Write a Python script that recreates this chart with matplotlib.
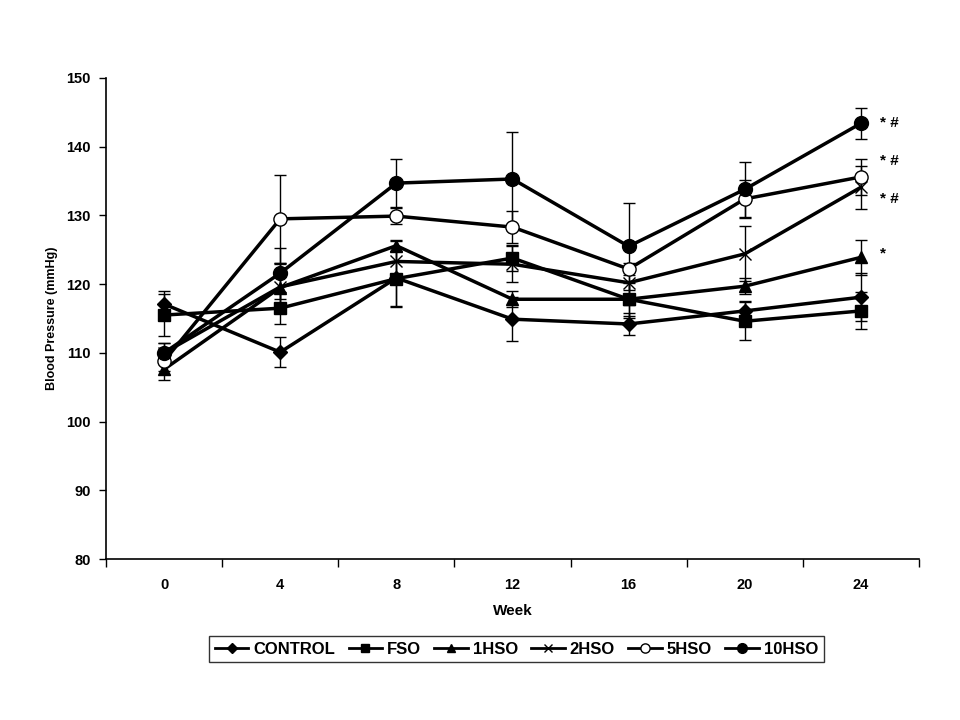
import matplotlib
matplotlib.use("Agg")
import matplotlib.pyplot as plt
from matplotlib.lines import Line2D

weeks = ["0", "4", "8", "12", "16", "20", "24"]

control = [117.1, 110.1, 120.9, 114.9, 114.2, 116.1, 118.1]
control_err = [1.9, 2.2, 4.3, 3.2, 1.6, 1.5, 3.5]
fso = [115.5, 116.5, 120.8, 123.8, 117.8, 114.6, 116.1]
fso_err = [3.0, 2.3, 4.0, 1.9, 2.7, 2.8, 2.7]
hso1 = [107.6, 119.5, 125.6, 117.8, 117.8, 119.7, 123.9]
hso1_err = [1.6, 3.5, 0.8, 1.2, 2.4, 1.2, 2.5]
hso2 = [110.0, 119.6, 123.3, 122.9, 120.2, 124.4, 134.1]
hso2_err = [1.5, 3.5, 3.0, 2.6, 2.5, 4.0, 3.1]
hso5 = [108.8, 129.5, 129.9, 128.3, 122.2, 132.4, 135.6]
hso5_err = [1.5, 6.4, 1.2, 2.3, 0.9, 2.8, 2.6]
hso10 = [110.0, 121.6, 134.7, 135.3, 125.5, 133.8, 143.4]
hso10_err = [1.5, 3.7, 3.5, 6.8, 6.3, 4.0, 2.3]

series = [
    ("CONTROL", control, control_err, dict(marker="D", ms=7, mfc="black")),
    ("FSO", fso, fso_err, dict(marker="s", ms=9, mfc="black")),
    ("1HSO", hso1, hso1_err, dict(marker="^", ms=9, mfc="black")),
    ("2HSO", hso2, hso2_err, dict(marker="x", ms=9, mew=1.0)),
    ("5HSO", hso5, hso5_err, dict(marker="o", ms=9.5, mfc="white", mew=1.0)),
    ("10HSO", hso10, hso10_err, dict(marker="o", ms=10, mfc="black")),
]

annotations = [("* #", hso10[-1]), ("* #", 137.9), ("* #", 132.4), ("*", 124.5)]

plt.rcParams['font.family'] = ['Liberation Sans', 'DejaVu Sans']
fig = plt.figure(figsize=(9.6, 7.2), dpi=100)
ax = fig.add_axes([0.1104, 0.2236, 0.8469, 0.6681])

xs = list(range(len(weeks)))
handles = []
for name, vals, errs, st in series:
    ax.errorbar(xs, vals, yerr=errs, color="black", lw=2.5, elinewidth=1.0,
                capsize=4.5, capthick=1.0, mec="black", **st)
    hst = dict(st)
    hst["ms"] = st["ms"] * 0.7
    handles.append(Line2D([], [], color="black", lw=2.0, mec="black", label=name, **hst))

for txt, yv in annotations:
    ax.text(6.16, yv, txt, fontsize=11, fontweight="bold", va="center", ha="left")

ax.set_xlim(-0.5, 6.5)
ax.set_ylim(80, 150)
ax.set_yticks(range(80, 151, 10))
ax.set_xticks([i - 0.5 for i in range(8)])
ax.set_xticklabels([])
ax.set_xticks(xs, minor=True)
ax.set_xticklabels(weeks, minor=True)
ax.tick_params(axis="x", which="major", length=6, direction="out", width=1)
ax.tick_params(axis="x", which="minor", length=0, pad=14)
ax.tick_params(axis="y", length=5, direction="out", width=1, pad=6)
for lab in ax.get_xticklabels(minor=True) + ax.get_yticklabels():
    lab.set_fontweight("bold")
    lab.set_fontsize(10.5)
ax.spines["top"].set_visible(False)
ax.spines["right"].set_visible(False)
ax.spines["left"].set_linewidth(1.2)
ax.spines["bottom"].set_linewidth(1.2)

ax.set_xlabel("Week", fontweight="bold", fontsize=11, labelpad=8)
ax.set_ylabel("Blood Pressure (mmHg)", fontweight="bold", fontsize=9, labelpad=6)

leg = fig.legend(handles=handles, loc="center", bbox_to_anchor=(0.538, 0.0986), ncol=6,
                 frameon=True, fancybox=False, edgecolor="black",
                 handlelength=2.0, handletextpad=0.3, columnspacing=0.8,
                 borderpad=0.35, prop={"weight": "bold", "size": 12})
leg.get_frame().set_linewidth(1.0)

fig.savefig("out.png", dpi=100, facecolor="white")
